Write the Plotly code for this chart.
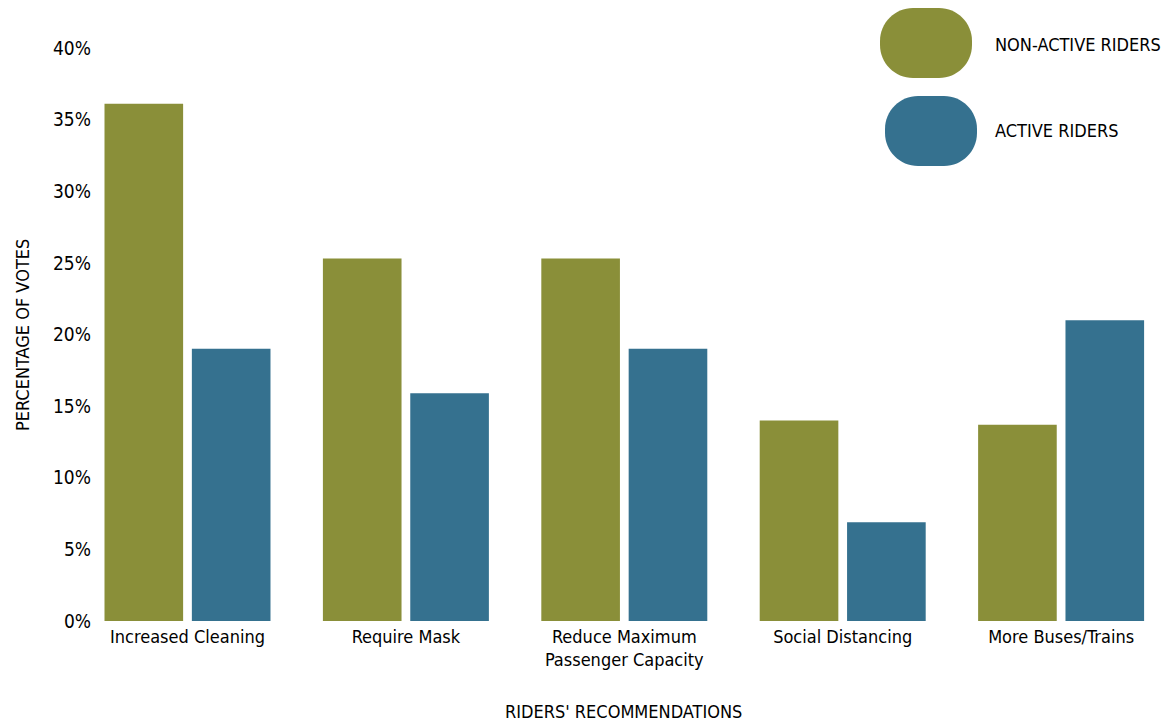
import plotly.graph_objects as go

categories = ["Increased Cleaning", "Require Mask", "Reduce Maximum<br>Passenger Capacity",
              "Social Distancing", "More Buses/Trains"]
non_active = [36.1, 25.3, 25.3, 14.0, 13.7]
active = [19.0, 15.9, 19.0, 6.9, 21.0]
y_ticks = [0, 5, 10, 15, 20, 25, 30, 35, 40]

GREEN = "#8A8F39"
BLUE = "#35718F"
FONT = "DejaVu Sans Condensed"

W, H = 1162, 727
L, R, T, B = 100, 12, 48, 106
pw, ph = W - L - R, H - T - B


def px(x):
    return (x - L) / pw


def py(y):
    return (H - B - y) / ph


def pill(x0, y0, x1, y1, r):
    k = 0.5523 * r
    pts = []
    pts.append(f"M {px(x0 + r)},{py(y0)}")
    pts.append(f"L {px(x1 - r)},{py(y0)}")
    pts.append(f"C {px(x1 - r + k)},{py(y0)} {px(x1)},{py(y0 + r - k)} {px(x1)},{py(y0 + r)}")
    pts.append(f"L {px(x1)},{py(y1 - r)}")
    pts.append(f"C {px(x1)},{py(y1 - r + k)} {px(x1 - r + k)},{py(y1)} {px(x1 - r)},{py(y1)}")
    pts.append(f"L {px(x0 + r)},{py(y1)}")
    pts.append(f"C {px(x0 + r - k)},{py(y1)} {px(x0)},{py(y1 - r + k)} {px(x0)},{py(y1 - r)}")
    pts.append(f"L {px(x0)},{py(y0 + r)}")
    pts.append(f"C {px(x0)},{py(y0 + r - k)} {px(x0 + r - k)},{py(y0)} {px(x0 + r)},{py(y0)} Z")
    return " ".join(pts)


fig = go.Figure()
fig.add_trace(go.Bar(x=categories, y=non_active, name="NON-ACTIVE RIDERS",
                     marker=dict(color=GREEN, line=dict(width=0))))
fig.add_trace(go.Bar(x=categories, y=active, name="ACTIVE RIDERS",
                     marker=dict(color=BLUE, line=dict(width=0))))

fig.update_layout(
    width=W, height=H,
    margin=dict(l=L, r=R, t=T, b=B),
    plot_bgcolor="white", paper_bgcolor="white",
    barmode="group", bargap=0.20, bargroupgap=0.10,
    showlegend=False,
    font=dict(family=FONT, size=18, color="black"),
    xaxis=dict(range=[-0.4006, 4.407], showgrid=False, showline=False, zeroline=False,
               ticks="", ticklabelstandoff=3, tickfont=dict(size=18)),
    yaxis=dict(range=[0, 40], tickvals=y_ticks, ticktext=[f"{v}%" for v in y_ticks],
               showgrid=False, showline=False, zeroline=False, ticks="",
               ticklabelstandoff=8, tickfont=dict(size=19)),
    shapes=[
        dict(type="path", xref="paper", yref="paper", path=pill(880, 8, 972, 78, 33),
             fillcolor=GREEN, line=dict(width=0)),
        dict(type="path", xref="paper", yref="paper", path=pill(885, 96, 977, 166, 33),
             fillcolor=BLUE, line=dict(width=0)),
    ],
    annotations=[
        dict(text="NON-ACTIVE RIDERS", x=px(993), y=py(44), xref="paper", yref="paper",
             xanchor="left", yanchor="middle", showarrow=False, font=dict(size=18)),
        dict(text="ACTIVE RIDERS", x=px(993), y=py(131), xref="paper", yref="paper",
             xanchor="left", yanchor="middle", showarrow=False, font=dict(size=18)),
        dict(text="PERCENTAGE OF VOTES", x=px(22), y=py(335), xref="paper", yref="paper",
             xanchor="center", yanchor="middle", textangle=-90, showarrow=False,
             font=dict(size=18)),
        dict(text="RIDERS' RECOMMENDATIONS", x=px(623), y=py(711), xref="paper", yref="paper",
             xanchor="center", yanchor="middle", showarrow=False, font=dict(size=18)),
    ],
)

fig.write_html("out.html")
